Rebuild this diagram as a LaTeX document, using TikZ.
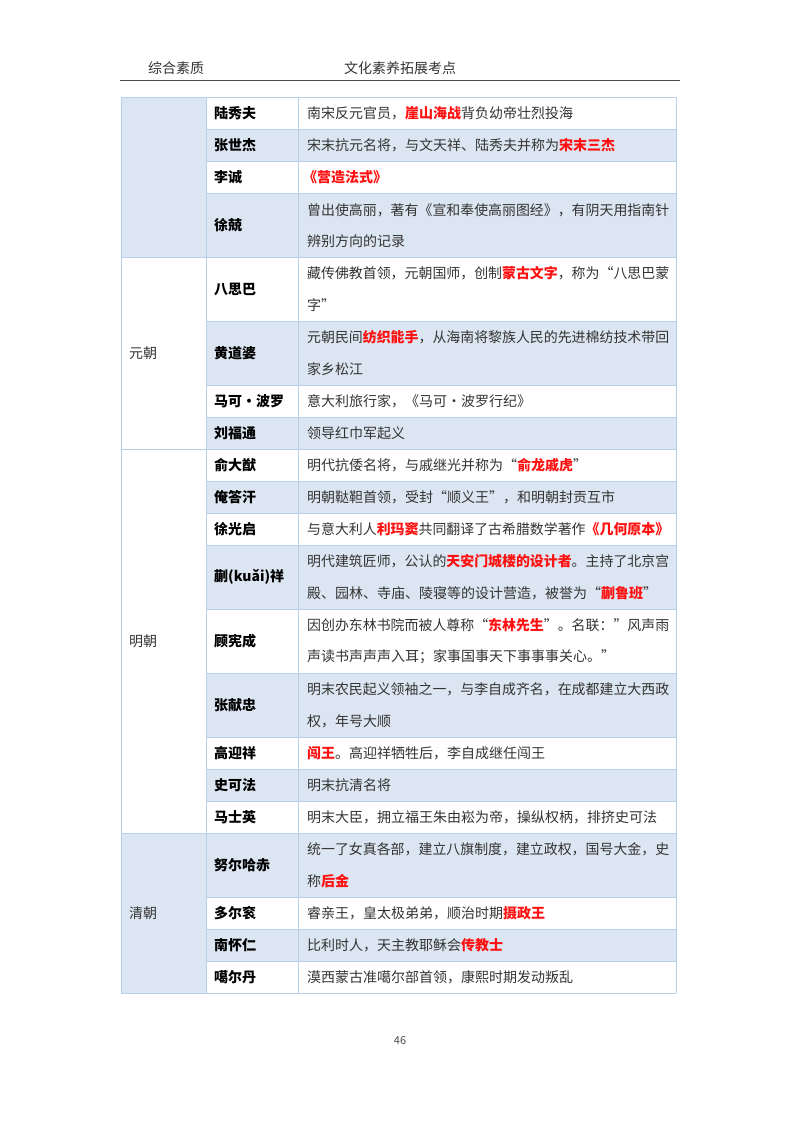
\documentclass[tikz,border=0pt]{standalone}
\usepackage{fontspec}
\setmainfont{Noto Sans CJK SC}
\definecolor{rowbg}{HTML}{DCE6F2}
\definecolor{bord}{HTML}{B8CFEA}
\definecolor{txt}{HTML}{333333}
\definecolor{hl}{HTML}{FF1010}
\newcommand{\R}[1]{\textcolor{hl}{\textbf{#1}}}
\newsavebox\fitbox
\newcommand\fit[1]{\sbox\fitbox{#1}\ifdim\wd\fitbox>362pt\resizebox{362pt}{\height}{\usebox\fitbox}\else\usebox\fitbox\fi}
\tikzset{
 body/.style={anchor=west,font=\fontsize{14}{16}\selectfont,text=txt,inner sep=0pt},
 nm/.style={anchor=west,font=\fontsize{14}{16}\selectfont\bfseries,text=black,inner sep=0pt},
 dyn/.style={anchor=west,font=\fontsize{14}{16}\selectfont,text=txt,inner sep=0pt},
 hdr/.style={font=\fontsize{14}{16}\selectfont,text=black!80,inner sep=0pt}
}
\begin{document}
\begin{tikzpicture}[x=1pt,y=-1pt]
\useasboundingbox (0,0) rectangle (800,1132);
\fill[white] (0,0) rectangle (800,1132);
% header
\node[hdr] (h1) at (176,68) {综合素质};
\node[hdr] (h2) at (400,68) {文化素养拓展考点};
\draw[black!70,line width=0.8pt] (120,80) -- (680,80);
% row backgrounds
\foreach \a/\b in {129/161,193/257,321/385,417/449,481/513,545/609,673/737,769/801,833/897,929/961}
  \fill[rowbg] (206,\a) rectangle (676,\b);
\fill[rowbg] (121,97) rectangle (206,257);
\fill[rowbg] (121,833) rectangle (206,993);
% grid
\foreach \y in {97,129,161,193,257,321,385,417,449,481,513,545,609,673,737,769,801,833,897,929,961,993}
  \draw[bord,line width=0.6pt] (206,\y) -- (676,\y);
\foreach \y in {97,257,449,833,993}
  \draw[bord,line width=0.6pt] (121,\y) -- (206,\y);
\draw[bord,line width=0.6pt] (121,97) -- (121,993);
\draw[bord,line width=0.6pt] (206,97) -- (206,993);
\draw[bord,line width=0.6pt] (298,97) -- (298,993);
\draw[bord,line width=0.6pt] (676,97) -- (676,993);
% dynasties
\node[dyn] (d1) at (129,353) {元朝};
\node[dyn] (d2) at (129,641) {明朝};
\node[dyn] (d3) at (129,913) {清朝};
% names
\foreach \t/\y [count=\i] in {陆秀夫/113,张世杰/145,李诚/177,徐兢/225,八思巴/289,黄道婆/353,马可·波罗/401,刘福通/433,俞大猷/465,俺答汗/497,徐光启/529,蒯(kuǎi)祥/577,顾宪成/641,张献忠/705,高迎祥/753,史可法/785,马士英/817,努尔哈赤/865,多尔衮/913,南怀仁/945,噶尔丹/977}
  \node[nm] (n\i) at (214,\y) {\t};
% descriptions
\node[body] (t1) at (307,113) {\fit{南宋反元官员，\R{崖山海战}背负幼帝壮烈投海}};
\node[body] (t2) at (307,145) {\fit{宋末抗元名将，与文天祥、陆秀夫并称为\R{宋末三杰}}};
\node[body] (t3) at (303,177) {\R{《营造法式》}};
\node[body] (t4a) at (307,210) {\fit{曾出使高丽，著有《宣和奉使高丽图经》，有阴天用指南针}};
\node[body] (t4b) at (307,241) {辨别方向的记录};
\node[body] (t5a) at (307,273) {\fit{藏传佛教首领，元朝国师，创制\R{蒙古文字}，称为“八思巴蒙}};
\node[body] (t5b) at (307,305) {字”};
\node[body] (t6a) at (307,337) {\fit{元朝民间\R{纺织能手}，从海南将黎族人民的先进棉纺技术带回}};
\node[body] (t6b) at (307,369) {家乡松江};
\node[body] (t7) at (307,401) {意大利旅行家，《马可·波罗行纪》};
\node[body] (t8) at (307,433) {领导红巾军起义};
\node[body] (t9) at (307,465) {\fit{明代抗倭名将，与戚继光并称为“\R{俞龙戚虎}”}};
\node[body] (t10) at (307,497) {\fit{明朝鞑靼首领，受封“顺义王”，和明朝封贡互市}};
\node[body] (t11) at (307,529) {\fit{与意大利人\R{利玛窦}共同翻译了古希腊数学著作\R{《几何原本》}}};
\node[body] (t12a) at (307,561) {\fit{明代建筑匠师，公认的\R{天安门城楼的设计者}。主持了北京宫}};
\node[body] (t12b) at (307,593) {\fit{殿、园林、寺庙、陵寝等的设计营造，被誉为“\R{蒯鲁班}”}};
\node[body] (t13a) at (307,625) {\fit{因创办东林书院而被人尊称“\R{东林先生}”。名联：”风声雨}};
\node[body] (t13b) at (307,657) {\fit{声读书声声声入耳；家事国事天下事事事关心。”}};
\node[body] (t14a) at (307,689) {\fit{明末农民起义领袖之一，与李自成齐名，在成都建立大西政}};
\node[body] (t14b) at (307,721) {权，年号大顺};
\node[body] (t15) at (307,753) {\fit{\R{闯王}。高迎祥牺牲后，李自成继任闯王}};
\node[body] (t16) at (307,785) {明末抗清名将};
\node[body] (t17) at (307,817) {\fit{明末大臣，拥立福王朱由崧为帝，操纵权柄，排挤史可法}};
\node[body] (t18a) at (307,849) {\fit{统一了女真各部，建立八旗制度，建立政权，国号大金，史}};
\node[body] (t18b) at (307,881) {称\R{后金}};
\node[body] (t19) at (307,913) {\fit{睿亲王，皇太极弟弟，顺治时期\R{摄政王}}};
\node[body] (t20) at (307,945) {\fit{比利时人，天主教耶稣会\R{传教士}}};
\node[body] (t21) at (307,977) {\fit{漠西蒙古准噶尔部首领，康熙时期发动叛乱}};
\node[font=\fontsize{11}{13}\selectfont,text=black!70] (pg) at (400,1041) {46};
\end{tikzpicture}
\end{document}
